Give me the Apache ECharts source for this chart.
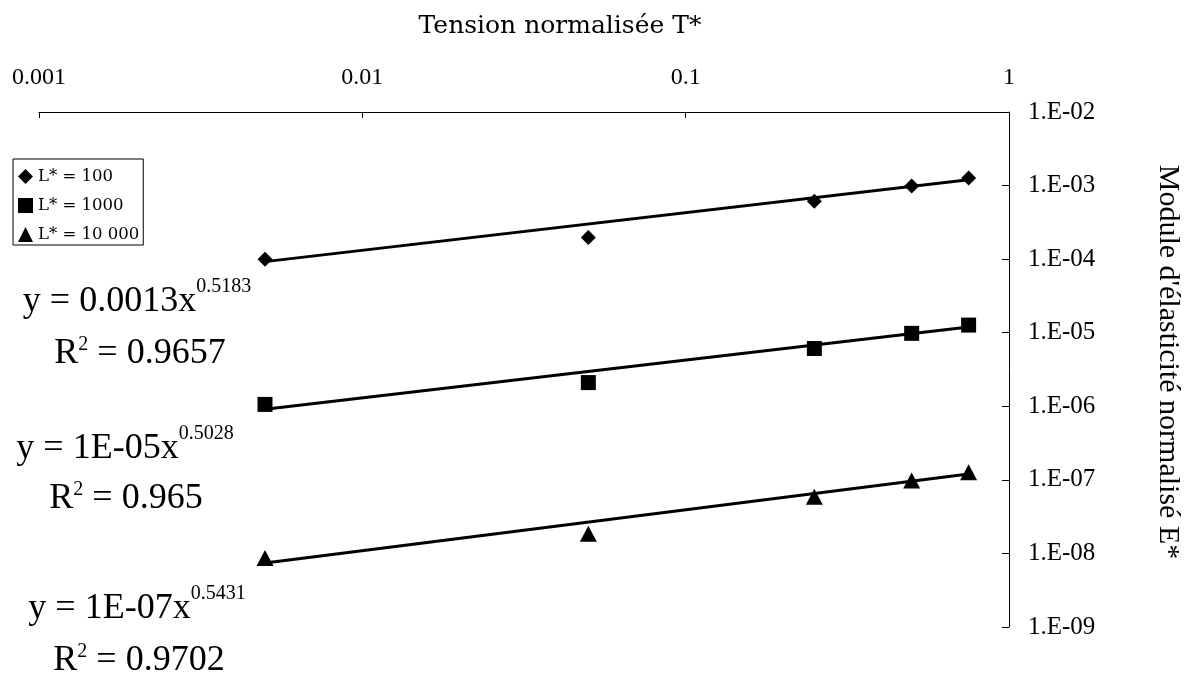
<!DOCTYPE html>
<html>
<head>
<meta charset="utf-8">
<script src="https://cdn.jsdelivr.net/npm/echarts@6/dist/echarts.min.js"></script>
<style>
html,body{margin:0;padding:0;background:#fff;}
#c{width:1189px;height:679px;}
</style>
</head>
<body>
<div id="c"></div>
<script>
// ---- data ----
const tension = [0.005, 0.05, 0.25, 0.5, 0.75];
const modL100 = [1.0e-4, 1.97e-4, 6.1e-4, 9.9e-4, 1.27e-3];
const modL1000 = [1.06e-6, 2.1e-6, 6.1e-6, 9.8e-6, 1.27e-5];
const modL10000 = [8.7e-9, 1.85e-8, 5.9e-8, 9.8e-8, 1.27e-7];
const trendX = [0.005, 0.75];
const trendL100 = [9.25e-5, 1.2e-3];
const trendL1000 = [9.1e-7, 1.2e-5];
const trendL10000 = [7.4e-9, 1.2e-7];
const seriesNames = ['L* = 100', 'L* = 1000', 'L* = 10 000'];
const xTickLabels = ['0.001', '0.01', '0.1', '1'];
const yTickLabels = ['1.E-09', '1.E-08', '1.E-07', '1.E-06', '1.E-05', '1.E-04', '1.E-03', '1.E-02'];
const eqMain = ['y = 0.0013x', 'y = 1E-05x', 'y = 1E-07x'];
const eqExp = ['0.5183', '0.5028', '0.5431'];
const eqR2 = ['0.9657', '0.965', '0.9702'];
const xTitle = 'Tension normalisée T*';
const yTitle = "Module d'élasticité normalisé E*";

const serif = '"Liberation Serif", "Times New Roman", serif';
const pairs = (xs, ys) => xs.map((x, i) => [x, ys[i]]);

const chart = echarts.init(document.getElementById('c'), null, {renderer: 'canvas'});

function eqLines(cx1, base1, cx2, base2, i) {
  const rich = {
    m: {font: '36px ' + serif, fill: '#000', color: '#000', lineHeight: 36, verticalAlign: 'bottom'},
    s: {font: '20px ' + serif, fill: '#000', color: '#000', lineHeight: 20, verticalAlign: 'bottom', padding: [0, 0, 23, 0]},
    t: {font: '20px ' + serif, fill: '#000', color: '#000', lineHeight: 20, verticalAlign: 'bottom', padding: [0, 0, 17, 0]}
  };
  return [
    {
      type: 'text', x: cx1, y: base1 + 6,
      style: {
        text: '{m|' + eqMain[i] + '}{s|' + eqExp[i] + '}',
        rich, fill: '#000',
        align: 'center', textAlign: 'center', verticalAlign: 'bottom', textVerticalAlign: 'bottom'
      }
    },
    {
      type: 'text', x: cx2, y: base2 + 6,
      style: {
        text: '{m|R}{t|2}{m| = ' + eqR2[i] + '}',
        rich, fill: '#000',
        align: 'center', textAlign: 'center', verticalAlign: 'bottom', textVerticalAlign: 'bottom'
      }
    }
  ];
}

const scatterStyle = (name, data, symbol, size) => ({
  name, type: 'scatter', data, symbol, symbolSize: size,
  itemStyle: {color: '#000', opacity: 1}, z: 3
});
const trendStyle = (data) => ({
  type: 'line', data, symbol: 'none', silent: true,
  lineStyle: {color: '#000', width: 3}, z: 2
});

chart.setOption({
  animation: false,
  backgroundColor: '#fff',
  title: {
    text: xTitle, left: 560, top: 14, textAlign: 'center', padding: 0,
    textStyle: {fontFamily: '"DejaVu Serif", serif', fontSize: 25, fontWeight: 'normal', color: '#000'}
  },
  legend: {
    data: seriesNames, orient: 'vertical', left: 13, top: 159,
    padding: [9, 4, 2, 5], itemGap: 12, itemWidth: 15, itemHeight: 15,
    borderColor: '#000', borderWidth: 1, selectedMode: false,
    textStyle: {fontFamily: '"DejaVu Serif", serif', fontSize: 16.5, color: '#000', lineHeight: 15, padding: [0, 0, 0, 0]}
  },
  grid: {left: 39, right: 180, top: 112, bottom: 52, containLabel: false},
  xAxis: {
    type: 'log', logBase: 10, min: 0.001, max: 1, position: 'top', splitNumber: 3,
    axisLine: {show: true, lineStyle: {color: '#000', width: 1}},
    axisTick: {show: true, inside: true, length: 6, lineStyle: {color: '#000'}},
    minorTick: {show: false}, splitLine: {show: false},
    axisLabel: {
      margin: 22, color: '#000', fontFamily: 'Liberation Serif', fontSize: 24,
      formatter: (v) => xTickLabels[Math.round(Math.log10(v)) + 3]
    }
  },
  yAxis: {
    type: 'log', logBase: 10, min: 1e-9, max: 1e-2, position: 'right', splitNumber: 7,
    axisLine: {show: true, lineStyle: {color: '#000', width: 1}},
    axisTick: {show: true, inside: true, length: 7, lineStyle: {color: '#000'}},
    minorTick: {show: false}, splitLine: {show: false},
    axisLabel: {
      margin: 19, align: 'left', color: '#000', fontFamily: 'Liberation Serif', fontSize: 25,
      formatter: (v) => yTickLabels[Math.round(Math.log10(v)) + 9]
    }
  },
  graphic: [
    ...eqLines(137, 314, 140, 366, 0),
    ...eqLines(125, 461, 126, 511, 1),
    ...eqLines(137, 621, 139, 673, 2),
    {
      type: 'text', x: 1168, y: 362, rotation: -Math.PI / 2,
      style: {
        text: yTitle, font: '30px ' + serif, fill: '#000',
        align: 'center', textAlign: 'center', verticalAlign: 'middle', textVerticalAlign: 'middle'
      }
    }
  ],
  series: [
    trendStyle(pairs(trendX, trendL100)),
    trendStyle(pairs(trendX, trendL1000)),
    trendStyle(pairs(trendX, trendL10000)),
    scatterStyle(seriesNames[0], pairs(tension, modL100), 'diamond', 15),
    scatterStyle(seriesNames[1], pairs(tension, modL1000), 'rect', 15),
    scatterStyle(seriesNames[2], pairs(tension, modL10000), 'triangle', [17, 16])
  ]
});
</script>
</body>
</html>
